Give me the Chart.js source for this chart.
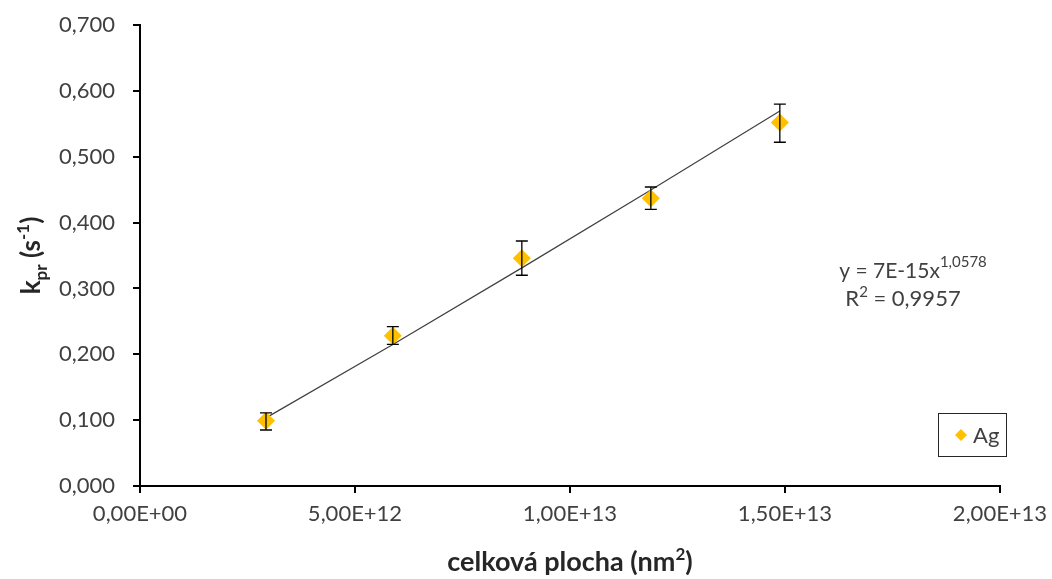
<!DOCTYPE html>
<html lang="cs">
<head>
    <meta charset="UTF-8">
    <title>k_pr vs. celková plocha</title>
    <script src="https://cdn.jsdelivr.net/npm/chart.js"></script>
    <style>
        body {
            margin: 0;
            background-color: white;
        }
        .chart-box {
            width: 1052px;
            height: 579px;
        }
    </style>
</head>
<body>
    <div class="chart-box">
        <canvas id="kprGraf"></canvas>
    </div>

    <script>
        // naměřená data (Ag)
        const plocha = [2.93e12, 5.88e12, 8.88e12, 11.88e12, 14.88e12];
        const kpr = [0.099, 0.228, 0.346, 0.437, 0.552];
        const chybaHorni = [0.012, 0.014, 0.026, 0.017, 0.028];
        const chybaDolni = [0.014, 0.013, 0.026, 0.017, 0.030];
        const yTicks = [0, 0.1, 0.2, 0.3, 0.4, 0.5, 0.6, 0.7];
        const xTicks = [0, 5e12, 1e13, 1.5e13, 2e13];

        const FONT = 'Lato, "Open Sans", sans-serif';

        // mocninná regrese v log-log (jako spojnice trendu v Excelu)
        const lx = plocha.map(Math.log);
        const ly = kpr.map(Math.log);
        const n = lx.length;
        const mx = lx.reduce((a, b) => a + b, 0) / n;
        const my = ly.reduce((a, b) => a + b, 0) / n;
        let sxy = 0, sxx = 0;
        for (let i = 0; i < n; i++) {
            sxy += (lx[i] - mx) * (ly[i] - my);
            sxx += (lx[i] - mx) * (lx[i] - mx);
        }
        const b = sxy / sxx;
        const a = Math.exp(my - b * mx);
        const trend = plocha.map(x => ({ x: x, y: a * Math.pow(x, b) }));

        function fmtY(v) {
            return v.toFixed(3).replace('.', ',');
        }
        function fmtX(v) {
            const [m, e] = v.toExponential(2).split('e');
            const sign = e[0] === '-' ? '-' : '+';
            const exp = e.replace(/[+-]/, '').padStart(2, '0');
            return m.replace('.', ',') + 'E' + sign + exp;
        }

        // text složený z částí s indexy: [text, velikost, posun]
        function kresliCasti(ctx, casti, x, y, tucne) {
            const w = tucne ? 'bold ' : '';
            casti.forEach(c => {
                ctx.font = w + c[1] + 'px ' + FONT;
                ctx.fillText(c[0], x, y + c[2]);
                x += ctx.measureText(c[0]).width;
            });
        }
        function sirkaCasti(ctx, casti, tucne) {
            const w = tucne ? 'bold ' : '';
            let s = 0;
            casti.forEach(c => { ctx.font = w + c[1] + 'px ' + FONT; s += ctx.measureText(c[0]).width; });
            return s;
        }

        // chybové úsečky
        const errorBars = {
            id: 'errorBars',
            afterDatasetsDraw(chart) {
                const ctx = chart.ctx;
                const xs = chart.scales.x, ys = chart.scales.y;
                ctx.save();
                ctx.strokeStyle = '#000';
                ctx.lineWidth = 1.3;
                plocha.forEach((x, i) => {
                    const px = xs.getPixelForValue(x);
                    const top = ys.getPixelForValue(kpr[i] + chybaHorni[i]);
                    const bot = ys.getPixelForValue(kpr[i] - chybaDolni[i]);
                    ctx.beginPath();
                    ctx.moveTo(px, top); ctx.lineTo(px, bot);
                    ctx.moveTo(px - 6, top); ctx.lineTo(px + 6, top);
                    ctx.moveTo(px - 6, bot); ctx.lineTo(px + 6, bot);
                    ctx.stroke();
                });
                ctx.restore();
            }
        };

        // popisky os, rovnice a legenda
        const popisky = {
            id: 'popisky',
            afterDraw(chart) {
                const ctx = chart.ctx;
                const area = chart.chartArea;
                ctx.save();
                ctx.fillStyle = '#262626';
                ctx.textBaseline = 'alphabetic';
                ctx.textAlign = 'left';

                // osa x
                const osaX = [['celková plocha (nm', 27, 0], ['2', 17, -11], [')', 27, 0]];
                const sx = sirkaCasti(ctx, osaX, true);
                kresliCasti(ctx, osaX, (area.left + area.right) / 2 - sx / 2, 571, true);

                // osa y
                ctx.translate(40, (area.top + area.bottom) / 2);
                ctx.rotate(-Math.PI / 2);
                const osaY = [['k', 26, 0], ['pr', 17, 7], [' (s', 26, 0], ['-1', 17, -11], [')', 26, 0]];
                const sy = sirkaCasti(ctx, osaY, true);
                kresliCasti(ctx, osaY, -sy / 2, 0, true);
                ctx.setTransform(1, 0, 0, 1, 0, 0);

                // rovnice regrese
                ctx.fillStyle = '#404040';
                const rov = [['y = 7E-15x', 21, 0], ['1,0578', 15, -11]];
                const sr = sirkaCasti(ctx, rov, false);
                kresliCasti(ctx, rov, 913 - sr / 2, 278, false);
                const r2 = [['R', 22, 0], ['2', 15, -9], [' = 0,9957', 22, 0]];
                const s2 = sirkaCasti(ctx, r2, false);
                kresliCasti(ctx, r2, 903 - s2 / 2, 306, false);

                // legenda
                ctx.strokeStyle = '#262626';
                ctx.lineWidth = 1;
                ctx.strokeRect(938.5, 413.5, 68, 43);
                ctx.fillStyle = '#FFC000';
                ctx.beginPath();
                ctx.moveTo(961, 429); ctx.lineTo(967, 435); ctx.lineTo(961, 441); ctx.lineTo(955, 435);
                ctx.closePath();
                ctx.fill();
                ctx.fillStyle = '#404040';
                ctx.font = '22px ' + FONT;
                ctx.fillText('Ag', 973, 443);
                ctx.restore();
            }
        };

        const ctx = document.getElementById('kprGraf').getContext('2d');
        new Chart(ctx, {
            type: 'scatter',
            data: {
                datasets: [{
                    label: 'Ag',
                    data: plocha.map((x, i) => ({ x: x, y: kpr[i] })),
                    pointStyle: 'rectRot',
                    pointRadius: 9,
                    pointHoverRadius: 9,
                    backgroundColor: '#FFC000',
                    borderColor: '#FFC000',
                    borderWidth: 0,
                    order: 1
                },
                {
                    label: 'trend',
                    type: 'line',
                    data: trend,
                    borderColor: '#404040',
                    borderWidth: 1.2,
                    pointRadius: 0,
                    fill: false,
                    tension: 0,
                    order: 2
                }]
            },
            options: {
                responsive: true,
                maintainAspectRatio: false,
                animation: false,
                layout: {
                    padding: { top: 25, right: 52, left: 0, bottom: 0 }
                },
                plugins: {
                    legend: { display: false },
                    tooltip: { enabled: false }
                },
                scales: {
                    x: {
                        type: 'linear',
                        min: 0,
                        max: 2e13,
                        afterBuildTicks: s => { s.ticks = xTicks.map(v => ({ value: v })); },
                        afterFit: s => { s.height = 93; s.paddingLeft = 0; s.paddingRight = 0; },
                        ticks: {
                            callback: v => fmtX(v),
                            font: { family: FONT, size: 22 },
                            color: '#404040',
                            padding: 8,
                            maxRotation: 0
                        },
                        grid: {
                            drawOnChartArea: false,
                            drawTicks: true,
                            tickLength: 7,
                            color: '#000',
                            lineWidth: 2
                        },
                        border: { color: '#000', width: 2 }
                    },
                    y: {
                        min: 0,
                        max: 0.7,
                        afterBuildTicks: s => { s.ticks = yTicks.map(v => ({ value: v })); },
                        afterFit: s => { s.width = 140; s.paddingTop = 0; s.paddingBottom = 0; },
                        ticks: {
                            callback: v => fmtY(v),
                            font: { family: FONT, size: 22 },
                            color: '#404040',
                            padding: 18
                        },
                        grid: {
                            drawOnChartArea: false,
                            drawTicks: true,
                            tickLength: 7,
                            color: '#000',
                            lineWidth: 2
                        },
                        border: { color: '#000', width: 2 }
                    }
                }
            },
            plugins: [errorBars, popisky]
        });
    </script>
</body>
</html>
